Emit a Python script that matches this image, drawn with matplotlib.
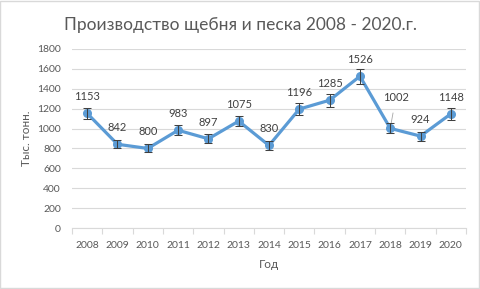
import matplotlib
matplotlib.use("Agg")
import matplotlib.pyplot as plt
import numpy as np
from matplotlib.patches import Rectangle

years = ["2008", "2009", "2010", "2011", "2012", "2013", "2014", "2015", "2016", "2017", "2018", "2019", "2020"]
values = [1153, 842, 800, 983, 897, 1075, 830, 1196, 1285, 1526, 1002, 924, 1148]
err_pct = 0.05
title = "Производство щебня и песка 2008 - 2020.г."
ylabel = "Тыс. тонн."
xlabel = "Год"

plt.rcParams['font.family'] = ['Lato', 'DejaVu Sans']
fig = plt.figure(figsize=(4.8, 2.89), dpi=100)
ax = fig.add_axes([72/480, 1-228/289, 394/480, 179/289])

x = np.arange(len(years))
vals = np.array(values)
line_color = "#5B9BD5"
ax.plot(x, vals, color=line_color, lw=2.3, marker="o", ms=5.5, zorder=3)
ax.errorbar(x, vals, yerr=vals*err_pct, fmt="none", ecolor="#404040", elinewidth=0.75, capsize=3, capthick=0.75, zorder=4)

for i, v in enumerate(values):
    if years[i] == "2018":
        ax.annotate(str(v), xy=(i, v), xytext=(4, 22), textcoords="offset points",
                    ha="center", va="center", fontsize=8, color="#404040",
                    arrowprops=dict(arrowstyle="-", color="#A6A6A6", lw=0.6, shrinkA=5, shrinkB=4))
    else:
        ax.annotate(str(v), xy=(i, v), xytext=(0, 12), textcoords="offset points",
                    ha="center", va="center", fontsize=8, color="#404040")

ax.set_xlim(-0.5, len(years)-0.5)
ax.set_ylim(0, 1800)
ax.set_yticks(np.arange(0, 1801, 200))
ax.set_xticks(x)
ax.set_xticklabels(years)
ax.set_xticks(np.arange(-0.5, len(years), 1), minor=True)
ax.tick_params(axis="x", which="major", length=0, pad=9, labelsize=7.5, labelcolor="#595959")
ax.tick_params(axis="x", which="minor", length=4, color="#D9D9D9", width=0.8)
ax.tick_params(axis="y", length=0, pad=8, labelsize=7.5, labelcolor="#595959")
ax.grid(axis="y", color="#D9D9D9", lw=0.8)
ax.set_axisbelow(True)
for s in ["top", "right", "left"]:
    ax.spines[s].set_visible(False)
ax.spines["bottom"].set_color("#D9D9D9")
ax.spines["bottom"].set_linewidth(0.8)

ax.set_ylabel(ylabel, fontsize=8.5, color="#595959", labelpad=4)
ax.set_xlabel(xlabel, fontsize=8.5, color="#595959", labelpad=7)
fig.text(0.5, 1-25/289, title, ha="center", va="center", fontsize=12.5, color="#595959")

fig.patches.append(Rectangle((0.001, 0.002), 0.997, 0.995, transform=fig.transFigure,
                             fill=False, edgecolor="#D9D9D9", lw=1))
fig.savefig("out.png", dpi=100)
